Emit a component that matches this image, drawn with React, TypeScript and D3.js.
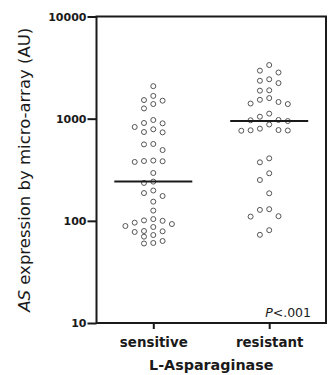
import React, { useEffect, useRef } from "react";
import * as d3 from "d3";

const groups = ["sensitive", "resistant"];

// AS expression (AU) per patient
const sensitiveValues = [
  2080, 1670, 1520, 1500, 1390, 1260, 970, 907, 900, 829, 787, 740, 735, 565,
  560, 493, 389, 385, 383, 377, 294, 242, 235, 198, 187, 175, 154, 126, 104,
  101, 100, 96, 93, 89, 87, 79.5, 79, 77.8, 72.6, 70, 63.5, 60.7, 60,
];

const resistantValues = [
  3350, 2950, 2830, 2430, 2350, 2230, 1895, 1880, 1590, 1530, 1456, 1407, 1390,
  1120, 1045, 971, 965, 948, 877, 798, 774, 770, 766, 762, 409, 374, 292, 251,
  186, 130, 128, 111, 110, 81, 73,
];

const yTicks = [10, 100, 1000, 10000];
const yTitle = "expression by micro-array (AU)";
const xTitle = "L-Asparaginase";
const pText = "<.001";

interface Dot {
  v: number;
  y: number;
  slot: number;
}

// Prism-like column scatter: bin dots into rows, spread each row over slots
function columnScatter(values: number[], y: (v: number) => number, rowGap: number): Dot[] {
  const pts = values.map((v) => ({ v, y: y(v) })).sort((a, b) => a.y - b.y);
  const rows: { v: number; y: number }[][] = [];
  let cur: { v: number; y: number }[] = [];
  pts.forEach((p) => {
    if (cur.length && p.y - cur[0].y > rowGap) {
      rows.push(cur);
      cur = [];
    }
    cur.push(p);
  });
  if (cur.length) rows.push(cur);

  const out: Dot[] = [];
  rows.forEach((row) => {
    const n = row.length;
    const lo = -Math.floor(n / 2);
    const hi = lo + n - 1;
    const order: number[] = [];
    for (let k = 0; order.length < n; k++) {
      const c = k === 0 ? [0] : [-k, k];
      c.forEach((s) => {
        if (s >= lo && s <= hi && order.length < n) order.push(s);
      });
    }
    row.forEach((p, i) => out.push({ ...p, slot: order[i] }));
  });
  return out;
}

const App: React.FC = () => {
  const svgRef = useRef<SVGSVGElement>(null);

  useEffect(() => {
    if (!svgRef.current) return;
    const svg = d3.select(svgRef.current);
    svg.selectAll("*").remove();

    const left = 96.5;
    const right = 326;
    const top = 16.5;
    const bottom = 323;
    const font = "'DejaVu Sans', sans-serif";
    const ink = "#1a1a1a";

    const y = d3.scaleLog().domain([10, 10000]).range([bottom, top]);
    const x = d3.scalePoint<string>().domain(groups).range([left, right]).padding(0.49);

    // frame
    svg
      .append("rect")
      .attr("x", left)
      .attr("y", top)
      .attr("width", right - left)
      .attr("height", bottom - top)
      .attr("fill", "none")
      .attr("stroke", ink)
      .attr("stroke-width", 2);

    // y axis
    const yAxis = svg
      .append("g")
      .attr("transform", `translate(${left},0)`)
      .call(
        d3
          .axisLeft(y)
          .tickValues(yTicks)
          .tickSize(9)
          .tickPadding(1)
          .tickFormat((d) => String(d))
      );
    yAxis.select(".domain").remove();
    yAxis.selectAll("line").attr("stroke", ink).attr("stroke-width", 2);
    yAxis
      .selectAll("text")
      .attr("fill", ink)
      .attr("font-family", font)
      .attr("font-weight", "bold")
      .attr("font-size", 11);

    // x axis
    const xAxis = svg
      .append("g")
      .attr("transform", `translate(0,${bottom})`)
      .call(d3.axisBottom(x).tickSize(6).tickPadding(8.4));
    xAxis.select(".domain").remove();
    xAxis.selectAll("line").attr("stroke", ink).attr("stroke-width", 2);
    xAxis
      .selectAll("text")
      .attr("fill", ink)
      .attr("font-family", font)
      .attr("font-weight", "bold")
      .attr("font-size", 13.4);

    // titles
    const yt = svg
      .append("text")
      .attr("transform", `translate(30,${(top + bottom) / 2}) rotate(-90)`)
      .attr("text-anchor", "middle")
      .attr("font-family", font)
      .attr("font-size", 16.5)
      .attr("fill", ink);
    yt.append("tspan").attr("font-style", "italic").text("AS");
    yt.append("tspan").text(" " + yTitle);

    svg
      .append("text")
      .attr("x", (left + right) / 2)
      .attr("y", 370.4)
      .attr("text-anchor", "middle")
      .attr("font-family", font)
      .attr("font-weight", "bold")
      .attr("font-size", 14.3)
      .attr("fill", ink)
      .text(xTitle);

    const pt = svg
      .append("text")
      .attr("x", 311)
      .attr("y", 317)
      .attr("text-anchor", "end")
      .attr("font-family", font)
      .attr("font-size", 12.5)
      .attr("fill", ink);
    pt.append("tspan").attr("font-style", "italic").text("P");
    pt.append("tspan").text(pText);

    // dots + medians
    const step = 9.3;
    const series = [sensitiveValues, resistantValues];
    series.forEach((vals, gi) => {
      const cx = x(groups[gi]) as number;
      const dots = columnScatter(vals, (v) => y(v), 7.5);

      svg
        .append("g")
        .selectAll("circle")
        .data(dots)
        .enter()
        .append("circle")
        .attr("cx", (d) => cx + d.slot * step)
        .attr("cy", (d) => d.y)
        .attr("r", 2.5)
        .attr("fill", "white")
        .attr("stroke", "#555")
        .attr("stroke-width", 1);

      const med = d3.median(vals) || 0;
      svg
        .append("line")
        .attr("x1", cx - 39)
        .attr("x2", cx + 39)
        .attr("y1", y(med))
        .attr("y2", y(med))
        .attr("stroke", ink)
        .attr("stroke-width", 2);
    });
  }, []);

  return (
    <svg
      ref={svgRef}
      width={328}
      height={375}
      style={{ position: "absolute", left: 0, top: 0, background: "white" }}
    />
  );
};

export default App;
